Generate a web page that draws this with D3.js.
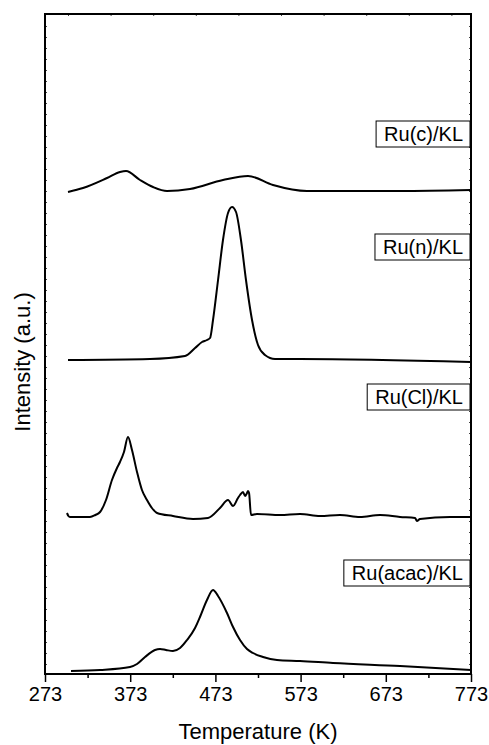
<!DOCTYPE html>
<html>
<head>
<meta charset="utf-8">
<script src="https://cdn.jsdelivr.net/npm/d3@7/dist/d3.min.js"></script>
<style>
  body { margin: 0; background: #fff; }
  svg { display: block; }
  text { font-family: Arial, "Liberation Sans", sans-serif; fill: #000; }
</style>
</head>
<body>
<svg id="chart" width="489" height="745"></svg>
<script>
// ---------------- DATA ----------------
const xTicks = [273, 373, 473, 573, 673, 773];
const xMinorTicks = [323, 423, 523, 623, 723];
const topTicks = [300, 350, 400, 450, 500, 550, 600, 650, 700, 750];

const seriesNames = ["Ru(c)/KL", "Ru(n)/KL", "Ru(Cl)/KL", "Ru(acac)/KL"];

const tempC = [300.0, 317.6, 345.8, 361.0, 368.1, 384.5, 399.8, 416.2, 443.2, 481.9, 511.3, 540.6, 580.5, 689.7, 773];
const intC  = [482, 486, 496, 502, 503, 494, 487, 483, 485, 494, 498, 489, 483, 483, 484];

const tempN = [300, 396.2, 437.3, 449.1, 457.3, 463.1, 466.7, 470.2, 476.1, 481.9, 487.8, 492.5, 497.2, 503, 508.9, 516, 523, 531.2, 543, 572.3, 773];
const intN  = [314, 315, 318, 326, 332, 334, 336, 354, 394, 434, 461, 467, 462, 434, 394, 354, 329, 319, 315, 315, 312];

const tempCl = [298.8, 300.5, 302.3, 325.8, 332.0, 337.6, 344.6, 351.6, 357.5, 361.0, 365.7, 370.4, 375.1, 381.0, 386.8, 392.7, 398.5, 404.5, 423.2, 446.7, 464.3, 478.4, 487.8, 493.7, 499.5, 501.9, 505.4, 507.8, 510.1, 511.3, 512.5, 514.8, 521.8, 548.8, 572.3, 595.8, 619.2, 642.7, 666.2, 689.7, 707.3, 709.6, 713.1, 748.4, 773];
const intCl  = [161, 158, 157, 157, 159, 162, 174, 194, 206, 212, 222, 237, 224, 202, 184, 174, 166, 161, 158, 155, 156, 166, 174, 168, 176, 179, 182, 178, 181, 183, 181, 159, 160, 159, 160, 158, 159, 157, 159, 157, 156, 153, 155, 157, 157];

const tempA = [303.5, 337.6, 372.8, 381.0, 390.4, 402.1, 408.0, 415.0, 423.2, 431.5, 439.7, 449.1, 454.9, 463.1, 470.2, 476.1, 486.6, 493.7, 501.9, 510.1, 517.1, 528.9, 545.3, 572.3, 611.0, 689.7, 773];
const intA  = [3, 4, 7, 10, 17, 24, 25, 24, 23, 26, 34, 46, 57, 74, 84, 78, 61, 47, 34, 25, 21, 17, 14, 13, 11, 8, 4];

// ---------------- LAYOUT ----------------
const svg = d3.select("#chart");
const L = 45, R = 471, T = 14, B = 674;

const x = d3.scaleLinear().domain([273, 773]).range([L, R]);
const y = d3.scaleLinear().domain([0, 660]).range([B, T]);

const series = [
  { name: seriesNames[0], t: tempC, v: intC, boxTop: 121 },
  { name: seriesNames[1], t: tempN, v: intN, boxTop: 234 },
  { name: seriesNames[2], t: tempCl, v: intCl, boxTop: 384 },
  { name: seriesNames[3], t: tempA, v: intA, boxTop: 560 }
];

// curves
series.forEach(s => {
  const pts = s.t.map((t, i) => [t, s.v[i]]);
  svg.append("path")
    .datum(pts)
    .attr("fill", "none")
    .attr("stroke", "#000")
    .attr("stroke-width", 2)
    .attr("stroke-linejoin", "round")
    .attr("d", d3.line().x(d => x(d[0])).y(d => y(d[1])).curve(d3.curveMonotoneX));
});

// bottom axis (major)
const xAxis = d3.axisBottom(x).tickValues(xTicks).tickSize(8).tickPadding(5).tickFormat(d3.format("d"));
const gx = svg.append("g").attr("transform", `translate(0,${B})`).call(xAxis);
gx.select(".domain").remove();
gx.selectAll(".tick line").attr("stroke", "#000").attr("stroke-width", 1.5);
gx.selectAll(".tick text").attr("font-size", 20).attr("font-family", "Arial, 'Liberation Sans', sans-serif").attr("fill", "#000");

// bottom minor ticks
const gxm = svg.append("g").attr("transform", `translate(0,${B})`)
  .call(d3.axisBottom(x).tickValues(xMinorTicks).tickSize(4).tickFormat(""));
gxm.select(".domain").remove();
gxm.selectAll(".tick line").attr("stroke", "#000").attr("stroke-width", 1.5);

// top tiny inward ticks
const gt = svg.append("g").attr("transform", `translate(0,${T})`)
  .call(d3.axisBottom(x).tickValues(topTicks).tickSize(2).tickFormat(""));
gt.select(".domain").remove();
gt.selectAll(".tick line").attr("stroke", "#444").attr("stroke-width", 1);

// left / right tiny ticks
const yTickVals = d3.range(10, 650, 11);
const gl = svg.append("g").attr("transform", `translate(${L},0)`)
  .call(d3.axisRight(y).tickValues(yTickVals).tickSize(2).tickFormat(""));
gl.select(".domain").remove();
gl.selectAll(".tick line").attr("stroke", "#444").attr("stroke-width", 1);
const gr = svg.append("g").attr("transform", `translate(${R},0)`)
  .call(d3.axisLeft(y).tickValues(yTickVals).tickSize(2).tickFormat(""));
gr.select(".domain").remove();
gr.selectAll(".tick line").attr("stroke", "#444").attr("stroke-width", 1);

// frame
svg.append("rect")
  .attr("x", L).attr("y", T).attr("width", R - L).attr("height", B - T)
  .attr("fill", "none").attr("stroke", "#000").attr("stroke-width", 2);

// axis titles
svg.append("text")
  .attr("x", (L + R) / 2).attr("y", 739)
  .attr("text-anchor", "middle").attr("font-size", 22)
  .text("Temperature (K)");

svg.append("text")
  .attr("transform", "translate(30,362) rotate(-90)")
  .attr("text-anchor", "middle").attr("font-size", 22)
  .text("Intensity (a.u.)");

// label boxes
series.forEach(s => {
  const g = svg.append("g");
  const txt = g.append("text")
    .attr("font-size", 20)
    .attr("text-anchor", "end")
    .attr("x", R - 8)
    .attr("y", s.boxTop + 20)
    .text(s.name);
  const w = txt.node().getComputedTextLength();
  g.insert("rect", "text")
    .attr("x", R - 1 - w - 15).attr("y", s.boxTop)
    .attr("width", w + 15).attr("height", 26)
    .attr("fill", "#fff").attr("stroke", "#000").attr("stroke-width", 1);
});
</script>
</body>
</html>
